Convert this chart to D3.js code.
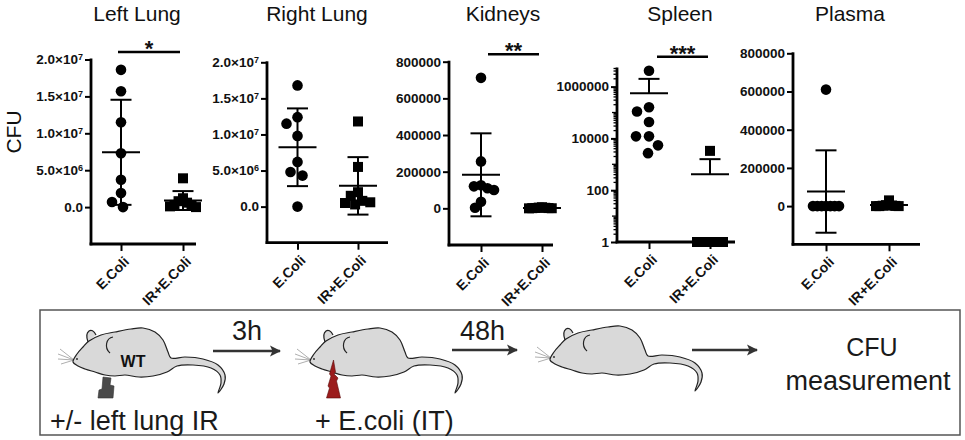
<!DOCTYPE html>
<html><head><meta charset="utf-8">
<script src="https://cdn.jsdelivr.net/npm/d3@7"></script>
<style>
body{margin:0;background:#fff}
svg{display:block}
text{font-family:"Liberation Sans",Arial,Helvetica,sans-serif}
</style>
</head><body>
<svg id="c" width="965" height="440"></svg>
<script>
// ---------------- DATA ----------------
const categories = ["E.Coli", "IR+E.Coli"];
const panelTitles = ["Left Lung", "Right Lung", "Kidneys", "Spleen", "Plasma"];

const leftLungEColi  = [18.6e6, 15.7e6, 11.5e6, 7.3e6, 3.7e6, 1.9e6, 0.7e6, 0];
const leftLungIR     = [3.9e6, 1.2e6, 0.8e6, 0.6e6, 0.3e6, 0.2e6, 0.1e6, 0];
const rightLungEColi = [16.8e6, 12.4e6, 11.5e6, 9.8e6, 6.2e6, 4.8e6, 4.3e6, 0];
const rightLungIR    = [11.8e6, 5.5e6, 2.0e6, 1.5e6, 0.8e6, 0.6e6, 0.5e6, 0.3e6];
const kidneysEColi   = [712000, 256000, 126000, 120000, 110000, 100000, 36000, 3000];
const kidneysIR      = [6000, 4000, 3000, 2000, 1500, 1000, 500, 0];
const spleenEColi    = [4.1e6, 1.6e5, 1.1e5, 4.3e4, 1.2e4, 1.2e4, 5.4e3, 2.7e3];
const spleenIR       = [3300, 1, 1, 1, 1, 1, 1, 1];
const plasmaEColi    = [610000, 0, 0, 0, 0, 0, 0, 0];
const plasmaIR       = [30000, 5000, 3000, 2000, 1000, 0, 0, 0];

const lungDomain  = [-5e6, 2e7];
const lungTicks   = [0, 5e6, 1e7, 1.5e7, 2e7];
const lungTickLabels = [["0.0", ""], ["5.0×10", "6"], ["1.0×10", "7"], ["1.5×10", "7"], ["2.0×10", "7"]];
const organDomain = [-200000, 800000];
const organTicks  = [0, 200000, 400000, 600000, 800000];
const spleenDomain = [1, 5e6];
const spleenTicks  = [1, 100, 10000, 1000000];
const significance = ["*", "", "**", "***", ""];

const yLabel = "CFU";
const stepLabels = ["+/- left lung IR", "+ E.coli (IT)"];
const delayLabels = ["3h", "48h"];
const endLabel = ["CFU", "measurement"];
const mouseTag = "WT";

// ---------------- LAYOUT ----------------
const layout = [
  {x0: 91,  c1: 121, c2: 183, xEnd: 196, yTop: 59.5, yBot: 244,   tx: 137, sx1: 118, sx2: 180, sy: 52},
  {x0: 267, c1: 297.5, c2: 358, xEnd: 388, yTop: 62.3, yBot: 242.7, tx: 317},
  {x0: 449, c1: 481, c2: 542, xEnd: 553, yTop: 61.7, yBot: 245,   tx: 503, sx1: 488, sx2: 539, sy: 54.3},
  {x0: 617, c1: 649, c2: 710, xEnd: 735, yTop: 68.5, yBot: 242,   tx: 680, sx1: 657, sx2: 708, sy: 56.7},
  {x0: 793, c1: 826, c2: 889, xEnd: 920, yTop: 53.3, yBot: 244.3, tx: 850}
];

const panels = [
  {values: [leftLungEColi, leftLungIR], type: "linear", domain: lungDomain, ticks: lungTicks, labels: lungTickLabels},
  {values: [rightLungEColi, rightLungIR], type: "linear", domain: lungDomain, ticks: lungTicks, labels: lungTickLabels},
  {values: [kidneysEColi, kidneysIR], type: "linear", domain: organDomain, ticks: organTicks},
  {values: [spleenEColi, spleenIR], type: "log", domain: spleenDomain, ticks: spleenTicks},
  {values: [plasmaEColi, plasmaIR], type: "linear", domain: organDomain, ticks: organTicks}
];

const svg = d3.select("#c");
const R = 5.3, SQ = 10;

function swarm(vals, y, dmin, maxHalf) {
  const pts = vals.map(v => ({v, y: y(v), dx: 0}));
  const placed = [];
  pts.forEach(p => {
    for (let k = 0; k < 400; k++) {
      const off = k === 0 ? 0 : (k % 2 ? -(k + 1) / 2 : k / 2);
      const ok = placed.every(q => (off - q.dx) ** 2 + (p.y - q.y) ** 2 >= dmin * dmin);
      if (ok) { p.dx = off; break; }
    }
    placed.push(p);
  });
  const m = d3.max(pts, p => Math.abs(p.dx));
  if (m > maxHalf) pts.forEach(p => p.dx *= maxHalf / m);
  return pts;
}

panels.forEach((p, i) => {
  const L = layout[i];
  const g = svg.append("g");
  const y = (p.type === "log" ? d3.scaleLog() : d3.scaleLinear()).domain(p.domain).range([L.yBot, L.yTop]);
  const x = d3.scalePoint().domain(categories).range([L.c1, L.c2]);

  g.append("text").attr("x", L.tx).attr("y", 21).attr("text-anchor", "middle")
    .attr("font-size", 21).attr("fill", "#111").text(panelTitles[i]);

  const ya = d3.axisLeft(y).tickValues(p.ticks).tickSize(6).tickPadding(2);
  const yg = g.append("g").attr("transform", `translate(${L.x0},0)`).call(ya);
  yg.select(".domain").remove();
  yg.selectAll(".tick line").attr("stroke", "#000").attr("stroke-width", 2);
  yg.selectAll(".tick text").attr("font-size", 13.5).attr("font-weight", "bold").attr("fill", "#111")
    .attr("font-family", "'Liberation Sans',Arial,sans-serif")
    .each(function (d, j) {
      const t = d3.select(this);
      if (p.labels) {
        const lab = p.labels[j];
        t.text(null);
        t.append("tspan").text(lab[0]);
        if (lab[1]) t.append("tspan").attr("dy", "-0.5em").attr("font-size", 9).text(lab[1]);
      } else {
        t.text(d3.format("d")(d));
      }
    });
  if (p.type === "log") {
    const minor = [];
    for (let k = 0; k <= 6; k++) for (let m = 1; m <= 9; m++) {
      const v = m * Math.pow(10, k);
      if (v <= p.domain[1] && !p.ticks.includes(v)) minor.push(v);
    }
    g.append("g").selectAll("line").data(minor).join("line")
      .attr("x1", L.x0).attr("x2", d => L.x0 - (Math.log10(d) % 1 === 0 ? 5 : 3.5))
      .attr("y1", d => y(d)).attr("y2", d => y(d))
      .attr("stroke", "#000").attr("stroke-width", 1.3);
  }
  g.append("line").attr("x1", L.x0).attr("x2", L.x0).attr("y1", y(p.domain[1]) - 1).attr("y2", L.yBot + 1.3)
    .attr("stroke", "#000").attr("stroke-width", 2.8);
  g.append("line").attr("x1", L.x0 - 1.4).attr("x2", L.xEnd).attr("y1", L.yBot).attr("y2", L.yBot)
    .attr("stroke", "#000").attr("stroke-width", 2.8);

  const xa = d3.axisBottom(x).tickSize(7).tickSizeOuter(0);
  const xg = g.append("g").attr("transform", `translate(0,${L.yBot})`).call(xa);
  xg.select(".domain").remove();
  xg.selectAll(".tick line").attr("stroke", "#000").attr("stroke-width", 2);
  xg.selectAll(".tick text").attr("font-size", 14).attr("font-weight", "bold").attr("fill", "#111")
    .attr("font-family", "'Liberation Sans',Arial,sans-serif")
    .attr("text-anchor", "end").attr("y", 0).attr("dy", "0.35em")
    .attr("transform", "translate(5,15) rotate(-45)");

  p.values.forEach((vals, ci) => {
    const cx = x(categories[ci]);
    const pts = swarm(vals, y, ci === 0 ? 2 * R + 1.5 : SQ + 0.5, 13);
    if (ci === 0) {
      g.append("g").selectAll("circle").data(pts).join("circle")
        .attr("cx", d => cx + d.dx).attr("cy", d => d.y).attr("r", R).attr("fill", "#000");
    } else {
      g.append("g").selectAll("rect").data(pts).join("rect")
        .attr("x", d => cx + d.dx - SQ / 2).attr("y", d => d.y - SQ / 2)
        .attr("width", SQ).attr("height", SQ).attr("fill", "#000");
    }
    const mean = d3.mean(vals), sd = d3.deviation(vals);
    const top = mean + sd, bot = mean - sd;
    const hasBot = p.type === "log" ? bot > 0 : true;
    const eg = g.append("g").attr("stroke", "#000").attr("stroke-width", 2).attr("fill", "none");
    eg.append("line").attr("x1", cx).attr("x2", cx).attr("y1", y(top)).attr("y2", hasBot ? y(bot) : y(mean));
    eg.append("line").attr("x1", cx - 10.5).attr("x2", cx + 10.5).attr("y1", y(top)).attr("y2", y(top));
    if (hasBot) eg.append("line").attr("x1", cx - 10.5).attr("x2", cx + 10.5).attr("y1", y(bot)).attr("y2", y(bot));
    eg.append("line").attr("x1", cx - 19).attr("x2", cx + 19).attr("y1", y(mean)).attr("y2", y(mean));
  });

  if (significance[i]) {
    g.append("line").attr("x1", L.sx1).attr("x2", L.sx2).attr("y1", L.sy).attr("y2", L.sy)
      .attr("stroke", "#000").attr("stroke-width", 2.6);
    g.append("text").attr("x", (L.sx1 + L.sx2) / 2).attr("y", L.sy + 4).attr("text-anchor", "middle")
      .attr("font-size", 22).attr("font-weight", "bold").attr("fill", "#111").text(significance[i]);
  }
});

svg.append("text").attr("transform", "translate(21,132) rotate(-90)").attr("text-anchor", "middle")
  .attr("font-size", 21).attr("fill", "#111").text(yLabel);

// ---------------- SCHEMATIC ----------------
svg.append("rect").attr("x", 40).attr("y", 310).attr("width", 920).attr("height", 125)
  .attr("fill", "none").attr("stroke", "#555").attr("stroke-width", 1.5);

const defs = svg.append("defs");
defs.append("marker").attr("id", "ah").attr("viewBox", "0 -6 12 12").attr("refX", 10).attr("refY", 0)
  .attr("markerWidth", 12).attr("markerHeight", 12).attr("markerUnits", "userSpaceOnUse").attr("orient", "auto")
  .append("path").attr("d", "M0,-5.5L11,0L0,5.5L2.5,0Z").attr("fill", "#333");

const bodyPts = [[0,0],[4,-8],[10,-15],[16,-21],[28,-27],[42,-30],[58,-33],[70,-34],[82,-30],[90,-22],[95,-10],[98,-4],
  [112,-5],[130,-3],[145,3],[152,13],[151,22],[145,31],[148,21],[147,13],[138,6],[120,3],[104,4],
  [94,10],[80,14],[66,15],[52,13],[42,14],[32,13],[22,10],[12,7],[5,4]];
const bodyLine = d3.line().curve(d3.curveCatmullRomClosed.alpha(0.5));

function mouse(nx, ny) {
  const m = svg.append("g").attr("transform", `translate(${nx},${ny})`);
  m.append("g").attr("stroke", "#999").attr("stroke-width", 0.8)
    .selectAll("line").data([[-13,-13],[-15,-8],[-15,-3],[-12,2]]).join("line")
    .attr("x1", 1).attr("y1", -2).attr("x2", d => d[0]).attr("y2", d => d[1]);
  m.append("path").attr("d", "M15,-20 C11,-31 19,-36 23,-27")
    .attr("fill", "#d9d9d9").attr("stroke", "#222").attr("stroke-width", 1.2);
  m.append("path").attr("d", bodyLine(bodyPts)).attr("fill", "#d9d9d9").attr("stroke", "#222").attr("stroke-width", 1.2);
  m.append("path").attr("d", "M40,-25 C33,-24 31,-14 37,-9").attr("fill", "none").attr("stroke", "#222").attr("stroke-width", 1.2);
  m.append("circle").attr("cx", 4).attr("cy", -3).attr("r", 0.9).attr("fill", "#222");
  return m;
}

const m1 = mouse(73, 362);
m1.append("text").attr("x", 60).attr("y", 5).attr("text-anchor", "middle").attr("font-size", 16)
  .attr("font-weight", "bold").attr("fill", "#111").text(mouseTag);
m1.append("path").attr("d", "M30,15 L38,16 L37,23 L41,24 L40,36 L25,36 L26,28 L29,27 Z")
  .attr("fill", "#4a4a4a").attr("stroke", "#333").attr("stroke-width", 0.6);

const m2 = mouse(310, 362);
m2.append("path").attr("d", "M23.5,-2 L25.5,10 L24,12 L28,16 L26.5,19 L30.5,36 L16.5,36 L19.5,26 L18,24 L21,14 L19.5,12 Z")
  .attr("fill", "#9b1c1c").attr("stroke", "#5a0c0c").attr("stroke-width", 0.6);

mouse(550, 360);

[[213, 280, 351], [452, 517, 350], [692, 757, 350]].forEach(a => {
  svg.append("line").attr("x1", a[0]).attr("x2", a[1]).attr("y1", a[2]).attr("y2", a[2])
    .attr("stroke", "#333").attr("stroke-width", 2.5).attr("marker-end", "url(#ah)");
});

svg.append("text").attr("x", 50).attr("y", 430).attr("font-size", 27).attr("fill", "#1a1a1a").text(stepLabels[0]);
svg.append("text").attr("x", 315).attr("y", 430).attr("font-size", 27).attr("fill", "#1a1a1a").text(stepLabels[1]);
svg.append("text").attr("x", 232).attr("y", 340).attr("font-size", 27).attr("fill", "#1a1a1a").text(delayLabels[0]);
svg.append("text").attr("x", 460).attr("y", 340).attr("font-size", 27).attr("fill", "#1a1a1a").text(delayLabels[1]);
svg.append("text").attr("x", 872).attr("y", 356).attr("text-anchor", "middle").attr("font-size", 25).attr("fill", "#1a1a1a").text(endLabel[0]);
svg.append("text").attr("x", 868).attr("y", 390).attr("text-anchor", "middle").attr("font-size", 27).attr("fill", "#1a1a1a").text(endLabel[1]);
</script>
</body></html>
